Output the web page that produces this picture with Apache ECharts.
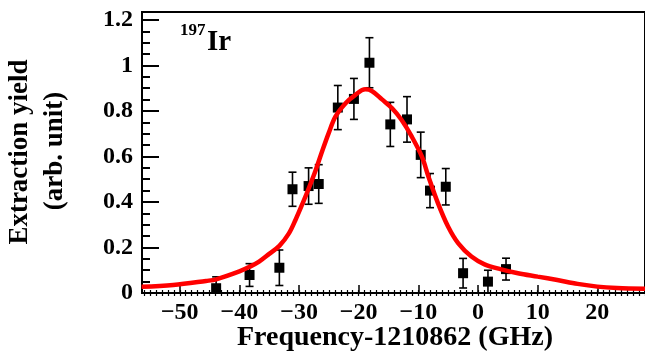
<!DOCTYPE html>
<html>
<head>
<meta charset="utf-8">
<script src="https://cdn.jsdelivr.net/npm/echarts@6/dist/echarts.min.js"></script>
<style>
  html, body { margin: 0; padding: 0; background: #fff; }
  #chart { width: 645px; height: 354px; }
</style>
</head>
<body>
<div id="chart"></div>
<script>
// Measured extraction yield vs laser frequency offset (GHz)
const freq = [-43.9, -38.3, -33.3, -31.1, -28.4, -26.7, -23.5, -20.8, -18.2, -14.7, -11.9, -9.6, -8.05, -5.4, -2.5, 1.67, 4.7];
const yieldVal = [0.021, 0.079, 0.111, 0.456, 0.470, 0.479, 0.815, 0.853, 1.012, 0.741, 0.763, 0.607, 0.450, 0.467, 0.087, 0.050, 0.105];
const yieldErr = [0.050, 0.050, 0.078, 0.075, 0.080, 0.085, 0.097, 0.090, 0.110, 0.097, 0.100, 0.100, 0.075, 0.080, 0.065, 0.050, 0.048];

// Fitted line profile
const fitFreq = [-56.4, -51.1, -45.6, -43.9, -40.0, -38.3, -36.7, -35.0, -33.3, -31.7, -30.6, -29.4, -28.3, -27.2, -26.1, -25.0, -23.9, -22.2, -20.6, -18.9, -17.8, -16.1, -14.4, -12.8, -11.1, -9.4, -8.3, -6.7, -5.0, -3.3, -1.1, 1.1, 3.9, 6.7, 10.0, 13.3, 16.7, 20.0, 23.3, 28.0];
const fitYield = [0.027, 0.035, 0.053, 0.060, 0.095, 0.115, 0.138, 0.172, 0.207, 0.262, 0.321, 0.394, 0.465, 0.541, 0.625, 0.705, 0.775, 0.834, 0.870, 0.895, 0.888, 0.851, 0.812, 0.760, 0.687, 0.599, 0.511, 0.394, 0.291, 0.218, 0.160, 0.126, 0.104, 0.087, 0.072, 0.057, 0.040, 0.028, 0.022, 0.019];

// Axis ticks
const xMajorTicks = [-50, -40, -30, -20, -10, 0, 10, 20];
const yMajorTicks = [0, 0.2, 0.4, 0.6, 0.8, 1, 1.2];
const xRange = [-56.33, 28];
const yRange = [0, 1.235];

const xMinorTicks = [];
for (let v = -56; v <= 28; v += 1) xMinorTicks.push(v);
const yMinorTicks = [];
for (let i = 0; i <= 24; i++) yMinorTicks.push(+(i * 0.05).toFixed(2));

const serif = 'Liberation Serif';

function xAxisBase(extra) {
  return Object.assign({
    type: 'value', gridIndex: 0, position: 'bottom',
    min: xRange[0], max: xRange[1],
    splitLine: { show: false },
    axisLine: { show: false, onZero: false },
    axisLabel: { show: false },
    axisTick: { show: false }
  }, extra);
}
function yAxisBase(extra) {
  return Object.assign({
    type: 'value', gridIndex: 0, position: 'left',
    min: yRange[0], max: yRange[1],
    splitLine: { show: false },
    axisLine: { show: false, onZero: false },
    axisLabel: { show: false },
    axisTick: { show: false }
  }, extra);
}

const chart = echarts.init(document.getElementById('chart'), null, { renderer: 'canvas' });

const pts = freq.map((f, i) => [f, yieldVal[i], yieldErr[i]]);
const fitLine = fitFreq.map((f, i) => [f, fitYield[i]]);

chart.setOption({
  animation: false,
  backgroundColor: '#fff',
  grid: {
    left: 142, top: 12, right: -3, bottom: 61,
    show: true, borderColor: '#000', borderWidth: 2, backgroundColor: 'transparent'
  },
  xAxis: [
    xAxisBase({
      axisLine: { show: true, onZero: false, lineStyle: { color: '#000', width: 2 } },
      axisTick: { show: true, inside: true, length: 8, lineStyle: { color: '#000', width: 1.5 }, customValues: xMajorTicks },
      axisLabel: {
        show: true, customValues: xMajorTicks, margin: 8,
        fontFamily: serif, fontWeight: 'bold', fontSize: 24, color: '#000',
        formatter: v => String(v).replace('-', '\u2212')
      }
    }),
    xAxisBase({
      axisTick: { show: true, inside: true, length: 3, lineStyle: { color: '#000', width: 1.2 }, customValues: xMinorTicks }
    }),
    xAxisBase({
      axisTick: { show: true, inside: false, length: 3, lineStyle: { color: '#000', width: 1.2 }, customValues: xMinorTicks }
    })
  ],
  yAxis: [
    yAxisBase({
      axisLine: { show: true, onZero: false, lineStyle: { color: '#000', width: 2 } },
      axisTick: { show: true, inside: true, length: 17, lineStyle: { color: '#000', width: 2 }, customValues: yMajorTicks },
      axisLabel: {
        show: true, customValues: yMajorTicks, margin: 9,
        fontFamily: serif, fontWeight: 'bold', fontSize: 24, color: '#000',
        formatter: v => (v === 0 || v === 1) ? String(v) : v.toFixed(1)
      }
    }),
    yAxisBase({
      axisTick: { show: true, inside: true, length: 8, lineStyle: { color: '#000', width: 2 }, customValues: yMinorTicks }
    })
  ],
  series: [
    {
      // vertical error bars with caps
      type: 'custom',
      xAxisIndex: 0, yAxisIndex: 0,
      clip: true,
      data: pts,
      z: 3,
      renderItem: function (params, api) {
        const x = api.value(0), y = api.value(1), e = api.value(2);
        const top = api.coord([x, y + e]);
        const bot = api.coord([x, y - e]);
        const cap = 4;
        const style = { stroke: '#000', lineWidth: 1.6, fill: null };
        return {
          type: 'group',
          children: [
            { type: 'line', shape: { x1: top[0], y1: top[1], x2: bot[0], y2: bot[1] }, style: style },
            { type: 'line', shape: { x1: top[0] - cap, y1: top[1], x2: top[0] + cap, y2: top[1] }, style: style },
            { type: 'line', shape: { x1: bot[0] - cap, y1: bot[1], x2: bot[0] + cap, y2: bot[1] }, style: style }
          ]
        };
      }
    },
    {
      type: 'scatter',
      xAxisIndex: 0, yAxisIndex: 0,
      data: pts.map(p => [p[0], p[1]]),
      symbol: 'rect', symbolSize: 10,
      itemStyle: { color: '#000', opacity: 1 },
      z: 4
    },
    {
      type: 'line',
      xAxisIndex: 0, yAxisIndex: 0,
      data: fitLine,
      smooth: 0.35,
      showSymbol: false,
      clip: true,
      lineStyle: { color: '#ff0000', width: 4.5 },
      z: 5
    }
  ],
  graphic: [
    {
      type: 'text', x: 20, y: 152, rotation: Math.PI / 2,
      style: { text: 'Extraction yield', fontFamily: serif, fontWeight: 'bold', fontSize: 27, fill: '#000', align: 'center', verticalAlign: 'middle' }
    },
    {
      type: 'text', x: 55, y: 151, rotation: Math.PI / 2,
      style: { text: '(arb. unit)', fontFamily: serif, fontWeight: 'bold', fontSize: 27, fill: '#000', align: 'center', verticalAlign: 'middle' }
    },
    {
      type: 'text', x: 395, y: 338,
      style: { text: 'Frequency-1210862 (GHz)', fontFamily: serif, fontWeight: 'bold', fontSize: 28, fill: '#000', align: 'center', verticalAlign: 'middle' }
    },
    {
      type: 'text', x: 180, y: 31,
      style: { text: '197', fontFamily: serif, fontWeight: 'bold', fontSize: 17, fill: '#000', align: 'left', verticalAlign: 'middle' }
    },
    {
      type: 'text', x: 207, y: 43,
      style: { text: 'Ir', fontFamily: serif, fontWeight: 'bold', fontSize: 29, fill: '#000', align: 'left', verticalAlign: 'middle' }
    }
  ]
});
</script>
</body>
</html>
